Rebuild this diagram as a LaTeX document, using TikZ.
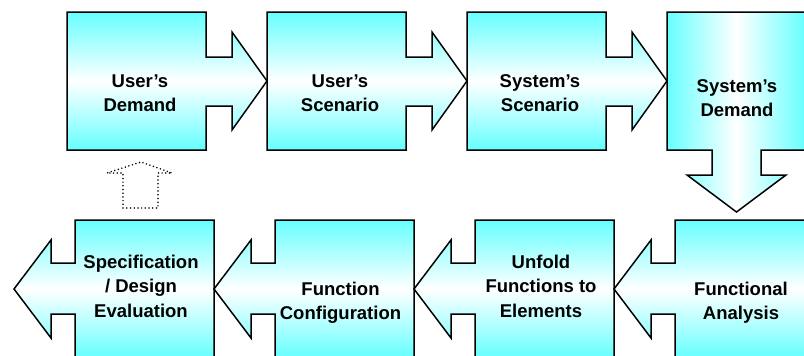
\documentclass[tikz,border=0pt]{standalone}
\usepackage{fontspec}
\setmainfont{Liberation Sans}
\definecolor{cy}{RGB}{102,255,255}
\tikzset{
  flowv/.style={draw=black, line width=1.5pt, top color=cy, bottom color=cy, middle color=white},
  flowh/.style={draw=black, line width=1.5pt, left color=cy, right color=cy, middle color=white},
  lbl/.style={anchor=base, inner sep=0pt, font=\fontsize{18.5}{24.5}\selectfont\bfseries},
  backarrow/.style={draw=black, line width=1.7pt, line cap=round, dash pattern=on 0pt off 3.7pt}
}
\newcommand{\lns}[1]{\begin{tabular}[t]{@{}c@{}}#1\end{tabular}}
\begin{document}
\begin{tikzpicture}[x=1pt, y=-1pt]
  \useasboundingbox (0,0) rectangle (804,356);
  \clip (0,0) rectangle (804,356);

  % top row: boxes with right-pointing arrows
  \foreach \x in {67,267,467}{
    \path[flowv] (\x,12) -- ++(139,0) -- ++(0,45) -- ++(26,0) -- ++(0,-25)
      -- (\x+200,81) -- (\x+165,130) -- ++(0,-24) -- ++(-26,0) -- (\x+139,150)
      -- (\x,150) -- cycle;
  }
  % top right: box with down-pointing arrow
  \path[flowh] (667,12) -- (806,12) -- (806,150) -- (761,150) -- (761,175)
    -- (786,175) -- (736.5,212) -- (687,175) -- (712,175) -- (712,150)
    -- (667,150) -- cycle;

  % bottom row: boxes with left-pointing arrows
  \foreach \x in {75,275,475,675}{
    \path[flowv] (\x,220) -- ++(139,0) -- ++(0,138) -- ++(-139,0) -- (\x,314)
      -- ++(-24,0) -- (\x-24,338) -- (\x-61,289) -- (\x-24,240) -- (\x-24,263)
      -- (\x,263) -- cycle;
  }

  % dotted return arrow
  \draw[backarrow] (123,208) -- (123,173) -- (107,173) -- (141,162) -- (172,173)
    -- (158,173) -- (158,208) -- cycle;

  % labels
  \node[lbl] (ud) at (140,87) {\lns{User’s\\Demand}};
  \node[lbl] (us) at (340,87) {\lns{User’s\\Scenario}};
  \node[lbl] (ss) at (540,87) {\lns{System’s\\Scenario}};
  \node[lbl] (sd) at (737,92) {\lns{System’s\\Demand}};
  \node[lbl] (fa) at (741,295) {\lns{Functional\\Analysis}};
  \node[lbl] (uf) at (541,268) {\lns{Unfold\\Functions to\\Elements}};
  \node[lbl] (fc) at (340.5,295) {\lns{Function\\Configuration}};
  \node[lbl] (sp) at (141,268) {\lns{Specification\\/ Design\\Evaluation}};
\end{tikzpicture}
\end{document}
